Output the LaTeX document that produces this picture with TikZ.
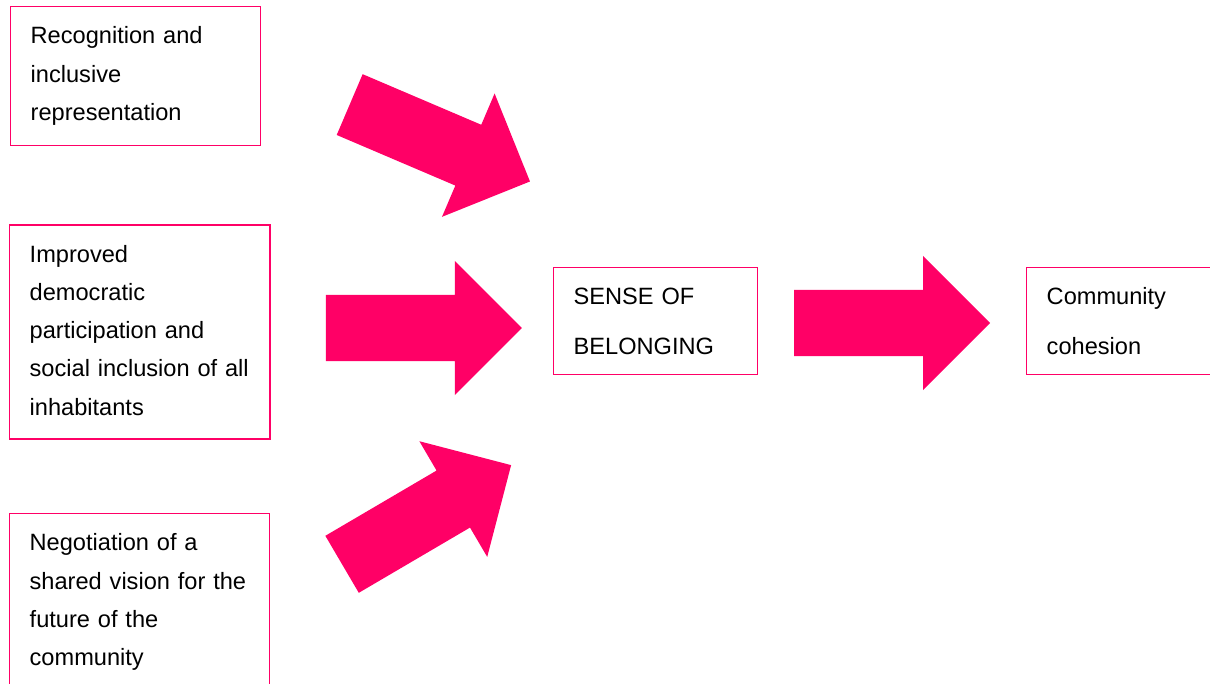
\documentclass[tikz,border=0pt]{standalone}
\usepackage{fontspec}
\setmainfont{Liberation Sans}
\usetikzlibrary{shapes.arrows}

\definecolor{hotpink}{RGB}{255,0,102}

\tikzset{
  box/.style={draw=hotpink, line width=1.4pt, anchor=north west, align=left,
    inner xsep=0pt, inner ysep=0pt, text height=37pt,
    execute at begin node={\leftskip=20pt},
    font=\fontsize{23.6}{38.3}\selectfont},
  widebox/.style={box, font=\fontsize{23.6}{50}\selectfont},
  fatarrow/.style={single arrow, fill=hotpink, anchor=tail, inner xsep=0pt,
    inner ysep=32.85pt, minimum height=196pt, single arrow head extend=34pt,
    rotate=#1},
  fatarrow/.default=0,
}

\begin{document}
\begin{tikzpicture}[x=1pt, y=-1pt]

  \useasboundingbox (0,0) rectangle (1210,683);

  %% the three causes
  \node[box, text width=250pt, text depth=102pt] (recog) at (10,6)
    {Recognition and\\inclusive\\representation};
  \node[box, text width=260.3pt, text depth=177pt] (partic) at (9,224.3)
    {Improved\\democratic\\participation and\\social inclusion of all\\inhabitants};
  \node[box, text width=260pt, text depth=153pt] (vision) at (9,513)
    {Negotiation of a\\shared vision for the\\future of the\\community};

  %% middle and result
  \node[widebox, text width=204pt, text depth=70pt] (belong) at (553,267)
    {SENSE OF\\BELONGING};
  \node[widebox, text width=230pt, text depth=70pt] (cohes) at (1026,267)
    {Community\\cohesion};

  %% block arrows
  \node[fatarrow=-23.1] (arrrecog) at (349.5,104.5) {};
  \node[fatarrow] (arrpartic) at (325.7,328) {};
  \node[fatarrow=30.4] (arrvision) at (341.9,564.4) {};
  \node[fatarrow] (arrbelong) at (794,323) {};

\end{tikzpicture}
\end{document}
